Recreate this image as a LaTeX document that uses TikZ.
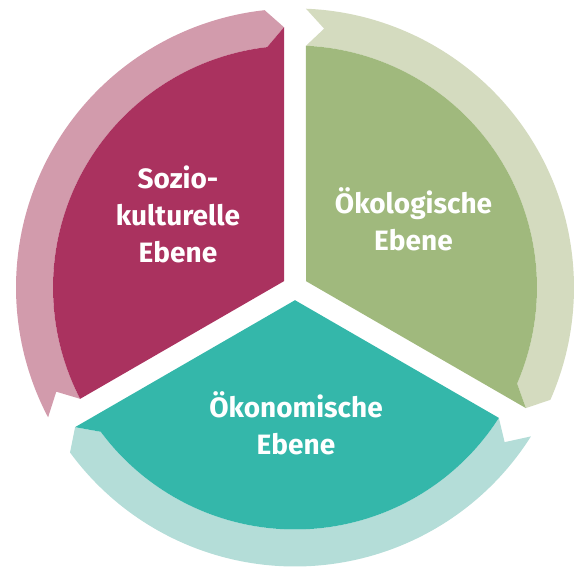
\documentclass[tikz,border=0pt]{standalone}
\usepackage{fontspec}
\setmainfont{Fira Sans}
\definecolor{magD}{HTML}{AA325F}
\definecolor{magL}{HTML}{D29BAC}
\definecolor{grnD}{HTML}{A0B97D}
\definecolor{grnL}{HTML}{D4DBBF}
\definecolor{tealD}{HTML}{34B7AA}
\definecolor{tealL}{HTML}{B4DDD8}
\tikzset{lbl/.style={text=white, font=\fontsize{28}{37}\selectfont\bfseries, align=center, inner sep=0pt}}
\begin{document}
\begin{tikzpicture}[x=1pt,y=1pt]
\useasboundingbox (0,0) rectangle (576,567);
\coordinate (O) at (295,279.5);
\pgfmathsetmacro\Ri{242}
\pgfmathsetmacro\Ro{279}
\pgfmathsetmacro\Rm{260.5}
\pgfmathsetmacro\aI{asin(11/\Ri)}
\pgfmathsetmacro\aO{asin(11/\Ro)}
\pgfmathsetmacro\aM{asin(11/\Rm)}
\def\chev{4}
\begin{scope}[shift={(O)}]
\foreach \ta/\dk/\lt in {210/magD/magL,90/grnD/grnL,-30/tealD/tealL}{
  \pgfmathsetmacro\hd{\ta-120}
  \fill[\lt] (\ta-\aO:\Ro) arc[start angle=\ta-\aO, end angle=\hd+\aO+\chev, radius=\Ro]
     -- (\hd+\aM:\Rm) -- (\hd+\aI+\chev:\Ri)
     arc[start angle=\hd+\aI+\chev, end angle=\ta-\aI, radius=\Ri]
     -- (\ta-\aM-\chev:\Rm) -- cycle;
  \fill[\dk] (\ta-60:12.7) -- (\ta-\aI:\Ri)
     arc[start angle=\ta-\aI, end angle=\hd+\aI+\chev, radius=\Ri]
     -- (\hd+\aM:\Rm) -- cycle;
}
\end{scope}
\node[lbl] (soz) at (178,352.5) {Sozio-\\kulturelle\\Ebene};
\node[lbl] (oek) at (413.5,348) {Ökologische\\Ebene};
\node[lbl] (oko) at (296,144) {Ökonomische\\Ebene};
\end{tikzpicture}
\end{document}
